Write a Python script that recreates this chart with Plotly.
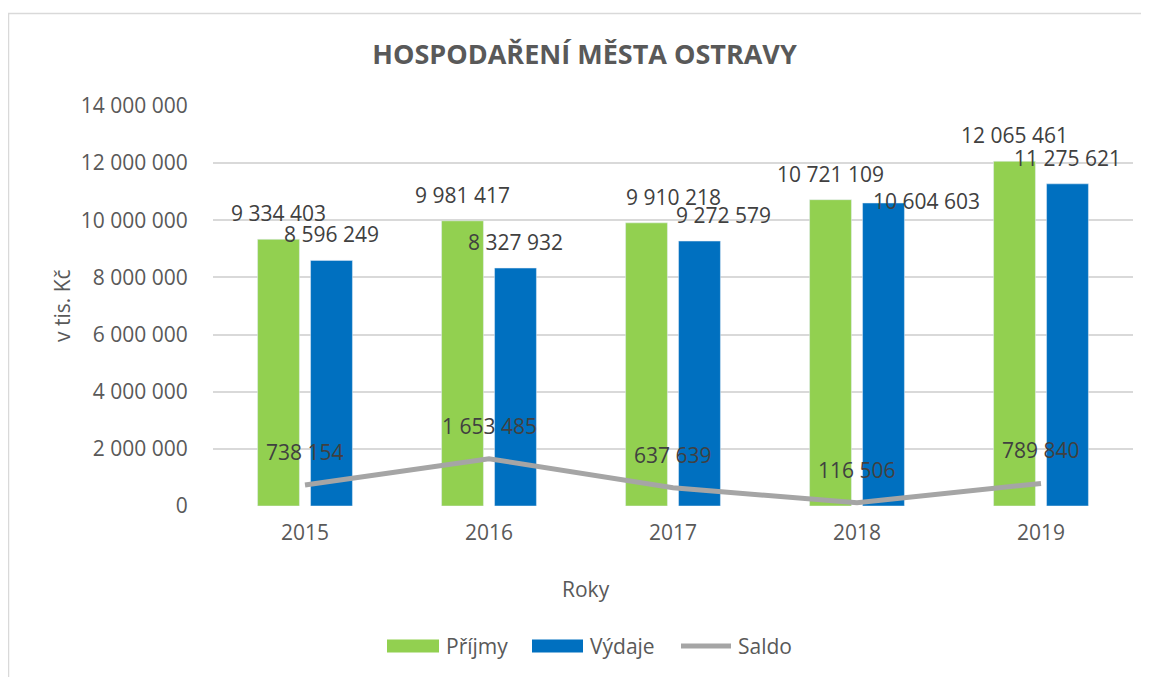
import plotly.graph_objects as go

# ---- data ----
years = ["2015", "2016", "2017", "2018", "2019"]
prijmy = [9334403, 9981417, 9910218, 10721109, 12065461]
vydaje = [8596249, 8327932, 9272579, 10604603, 11275621]
saldo = [738154, 1653485, 637639, 116506, 789840]

title_text = "HOSPODAŘENÍ MĚSTA OSTRAVY"
y_title = "v tis. Kč"
x_title = "Roky"
names = ["Příjmy", "Výdaje", "Saldo"]

# ---- style ----
GREEN = "#92D050"
BLUE = "#0070C0"
GRAY = "#A5A5A5"
GRID = "#D9D9D9"
TXT = "#595959"
LBL = "#404040"
FONT = "Open Sans"

OFF = 8  # page body margin of the html
W, H = 1149, 677
# plot area in page pixels: x 213..1133, y 106..506
L = 213 - OFF
T = 106 - OFF
R = W - (1133 - OFF)
B = H - (506 - OFF)
PW = W - L - R
PH = H - T - B


def px_x(p):
    return (p - OFF - L) / PW


def px_y(p):
    return (H - B - (p - OFF)) / PH


def fmt(v):
    return f"{v:,}".replace(",", " ")


fig = go.Figure()
fig.add_trace(go.Bar(x=years, y=prijmy, name=names[0], marker_color=GREEN))
fig.add_trace(go.Bar(x=years, y=vydaje, name=names[1], marker_color=BLUE))
fig.add_trace(go.Scatter(x=years, y=saldo, name=names[2], mode="lines",
                         line=dict(color=GRAY, width=5)))

# manual label nudges (pixels) as in the original chart
nudge = {(0, 2): (27, 0), (1, 2): (24, 0), (1, 3): (43, -24)}

annotations = []
for si, (vals, off) in enumerate([(prijmy, -26.5), (vydaje, 26.5)]):
    for i, v in enumerate(vals):
        dx, dy = nudge.get((si, i), (0, 0))
        annotations.append(dict(x=i, y=v, xref="x", yref="y", text=fmt(v),
                                showarrow=False, xshift=off + dx, yshift=26 + dy,
                                yanchor="middle",
                                font=dict(family=FONT, size=21, color=LBL)))
for i, v in enumerate(saldo):
    annotations.append(dict(x=i, y=v, xref="x", yref="y", text=fmt(v),
                            showarrow=False, yshift=33, yanchor="middle",
                            font=dict(family=FONT, size=21, color=LBL)))

# axis titles
annotations.append(dict(x=px_x(62), y=0.5, xref="paper", yref="paper", text=y_title,
                        textangle=-90, showarrow=False, xanchor="center", yanchor="middle",
                        font=dict(family=FONT, size=21, color=TXT)))
annotations.append(dict(x=px_x(586), y=px_y(589), xref="paper", yref="paper", text=x_title,
                        showarrow=False, xanchor="center", yanchor="middle",
                        font=dict(family=FONT, size=21, color=TXT)))

# custom legend
shapes = []
ly0, ly1 = px_y(652.5), px_y(639.5)
shapes.append(dict(type="rect", xref="paper", yref="paper", x0=px_x(387), x1=px_x(439),
                   y0=ly0, y1=ly1, fillcolor=GREEN, line=dict(width=0)))
shapes.append(dict(type="rect", xref="paper", yref="paper", x0=px_x(532), x1=px_x(583),
                   y0=ly0, y1=ly1, fillcolor=BLUE, line=dict(width=0)))
shapes.append(dict(type="line", xref="paper", yref="paper", x0=px_x(681), x1=px_x(731),
                   y0=px_y(646), y1=px_y(646), line=dict(color=GRAY, width=5)))
for nm, xpx in zip(names, [444, 588, 736]):
    annotations.append(dict(x=px_x(xpx), y=px_y(646), xref="paper", yref="paper", text=nm,
                            showarrow=False, xanchor="left", yanchor="middle",
                            font=dict(family=FONT, size=21, color=TXT)))

# chart-area border
shapes.append(dict(type="rect", xref="paper", yref="paper", x0=px_x(8.5), x1=px_x(1180),
                   y0=px_y(720), y1=px_y(13.5), line=dict(color=GRID, width=1.5),
                   fillcolor="rgba(0,0,0,0)", layer="below"))

fig.update_layout(
    width=W, height=H,
    margin=dict(l=L, r=R, t=T, b=B, autoexpand=False),
    paper_bgcolor="white", plot_bgcolor="white",
    barmode="group", bargap=0.424, bargroupgap=0.21,
    separators=", ",
    showlegend=False,
    title=dict(text=title_text, x=(584.5 - OFF) / W, xref="container", xanchor="center",
               y=1 - (55 - OFF) / H, yref="container", yanchor="middle",
               font=dict(family=FONT, size=27, color=TXT, weight="bold")),
    annotations=annotations,
    shapes=shapes,
    font=dict(family=FONT, size=21, color=TXT),
)
fig.update_xaxes(type="category", showgrid=False, showline=False, zeroline=False,
                 automargin=False,
                 ticks="outside", ticklen=8, tickcolor="rgba(0,0,0,0)",
                 tickfont=dict(family=FONT, size=21, color=TXT))
fig.update_yaxes(range=[0, 14000000], dtick=2000000, tickformat=",d",
                 automargin=False,
                 showgrid=True, gridcolor=GRID, gridwidth=1.5, zeroline=False, showline=False,
                 ticks="outside", ticklen=20, tickcolor="rgba(0,0,0,0)",
                 tickfont=dict(family=FONT, size=21, color=TXT))

fig.write_html("out.html")
